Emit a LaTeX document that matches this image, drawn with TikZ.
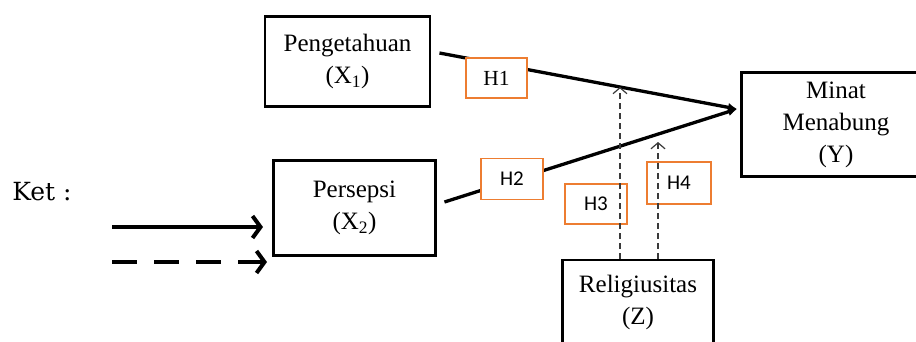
\documentclass[tikz,border=0pt]{standalone}
\usepackage{fontspec}
\setmainfont{Liberation Serif}
\newfontfamily\carl{Carlito}
\newfontfamily\dvs{DejaVu Serif}
\usetikzlibrary{arrows.meta,calc}
\definecolor{hor}{HTML}{ED7D31}
\definecolor{dgray}{HTML}{3A3A3A}
\begin{document}
\begin{tikzpicture}[x=1pt,y=-1pt,
  var/.style={draw=black,line width=2.9pt,fill=white,align=center,
    font=\fontsize{25}{32}\selectfont,inner sep=0pt},
  hyp/.style={draw=hor,line width=1.8pt,fill=white,inner sep=0pt,
    minimum width=62pt,minimum height=41pt},
  hsans/.style={font=\carl\fontsize{21}{24}\selectfont},
  hserif/.style={font=\fontsize{21.5}{24}\selectfont},
  mainarrow/.style={line width=3.3pt,-{Latex[length=9pt,width=9pt]}},
  modarrow/.style={draw=dgray,line width=1.2pt,dash pattern=on 6pt off 4pt,
    -{Straight Barb[length=6pt,width=14pt,line width=1.2pt]}},
  legsolid/.style={line width=4.5pt,-{Straight Barb[length=8pt,width=22pt,line width=4pt]}},
  legdash/.style={line width=4.5pt,dash pattern=on 25pt off 17pt,
    -{Straight Barb[length=8pt,width=22pt,line width=4pt]}},
]
\useasboundingbox (0,0) rectangle (916,341);
\clip (0,0) rectangle (916,341);

% variable boxes
\node[var,minimum width=165pt,minimum height=90pt] (peng) at (347.5,61.5)
  {Pengetahuan\\(X\textsubscript{1})};
\node[var,minimum width=162pt,minimum height=95pt] (pers) at (354.5,208)
  {Persepsi\\(X\textsubscript{2})};
\node[var,minimum width=189pt,minimum height=104pt] (minat) at (836,124.5)
  {Minat\\Menabung\\(Y)};
\node[var,minimum width=151pt,minimum height=86pt,anchor=north] (rel) at (638,258.5)
  {Religiusitas\\(Z)};

% main paths
\coordinate (mt) at ($(minat.west)+(-3,-15.5)$);
\coordinate (p1) at ($(peng.east)+(8,-8.5)$);
\coordinate (p2) at ($(pers.east)+(7.5,-6)$);
\draw[mainarrow] (p1) -- (mt);
\draw[mainarrow] (p2) -- (mt);

% hypothesis labels
\node[hyp,hserif,minimum width=61pt,minimum height=40pt] (h1) at (496.5,78) {H1};
\node[hyp,hsans] (h2) at (512,179) {H2};
\node[hyp,hsans,minimum height=40pt] (h3) at (596,204) {H3};
\node[hyp,hsans,minimum width=64pt,minimum height=42pt] (h4) at (679,183) {H4};

% moderation paths
\coordinate (m3s) at ($(rel.north)+(-18,0)$);
\coordinate (m3t) at ($(p1)!0.606!(mt)$);
\coordinate (m4s) at ($(rel.north)+(20,0)$);
\coordinate (m4t) at ($(rel.north)+(20,-116.5)$);
\draw[modarrow] (m3s) -- (m3s |- m3t);
\draw[modarrow] (m4s) -- (m4t);

% legend
\node[font=\dvs\fontsize{25}{30}\selectfont,anchor=base,inner sep=0pt] (ket) at (42,200) {Ket :};
\coordinate (l1s) at (112,227);
\coordinate (l1e) at (263,227);
\coordinate (l2s) at (112,262);
\coordinate (l2e) at (267,262);
\draw[legsolid] (l1s) -- (l1e);
\draw[legdash] (l2s) -- (l2e);
\end{tikzpicture}
\end{document}
